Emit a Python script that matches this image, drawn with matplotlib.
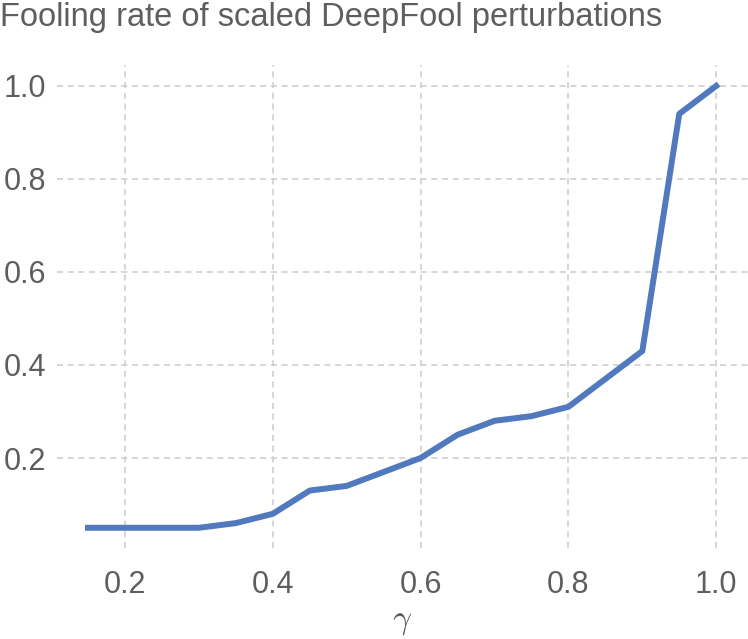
import matplotlib
matplotlib.use("Agg")
import matplotlib.pyplot as plt

# scaling factor gamma and the fooling rate
gammas = [0.15, 0.2, 0.25, 0.3, 0.35, 0.4, 0.45, 0.5, 0.55, 0.6,
          0.65, 0.7, 0.75, 0.8, 0.85, 0.9, 0.95, 1.0]
fooling_rate = [0.05, 0.05, 0.05, 0.05, 0.06, 0.08, 0.13, 0.14, 0.17, 0.20,
                0.25, 0.28, 0.29, 0.31, 0.37, 0.43, 0.94, 1.0]
xticks = [0.2, 0.4, 0.6, 0.8, 1.0]
yticks = [0.2, 0.4, 0.6, 0.8, 1.0]

plt.rcParams['font.family'] = ['Liberation Sans', 'DejaVu Sans']
plt.rcParams['mathtext.fontset'] = 'cm'
text_col = '#5e5e5e'

fig = plt.figure(figsize=(7.48, 6.39), dpi=100)
# axes box in pixels: left 57, right 748, top 65, bottom 548
ax = fig.add_axes([57 / 748, (639 - 548) / 639, 691 / 748, 483 / 639])

ax.plot(gammas, fooling_rate, color='#5179bd', linewidth=4.3)

ax.set_xlim(0.108, 1.043)
ax.set_ylim(0.0065, 1.045)
ax.set_xticks(xticks)
ax.set_yticks(yticks)
ax.set_xticklabels(['%.1f' % t for t in xticks])
ax.set_yticklabels(['%.1f' % t for t in yticks])
ax.tick_params(length=0, labelsize=22, colors=text_col)
ax.tick_params(axis='x', pad=16)
ax.tick_params(axis='y', pad=8)

ax.grid(True, color='#cccccc', linestyle=(0, (4, 3)), linewidth=1.1)
for s in ax.spines.values():
    s.set_visible(False)

ax.set_xlabel(r'$\gamma$', fontsize=24, color=text_col, labelpad=4)
fig.text(0.0, 0.997, 'Fooling rate of scaled DeepFool perturbations',
         fontsize=23.5, color=text_col, ha='left', va='top')

fig.savefig('out.png', dpi=100)
